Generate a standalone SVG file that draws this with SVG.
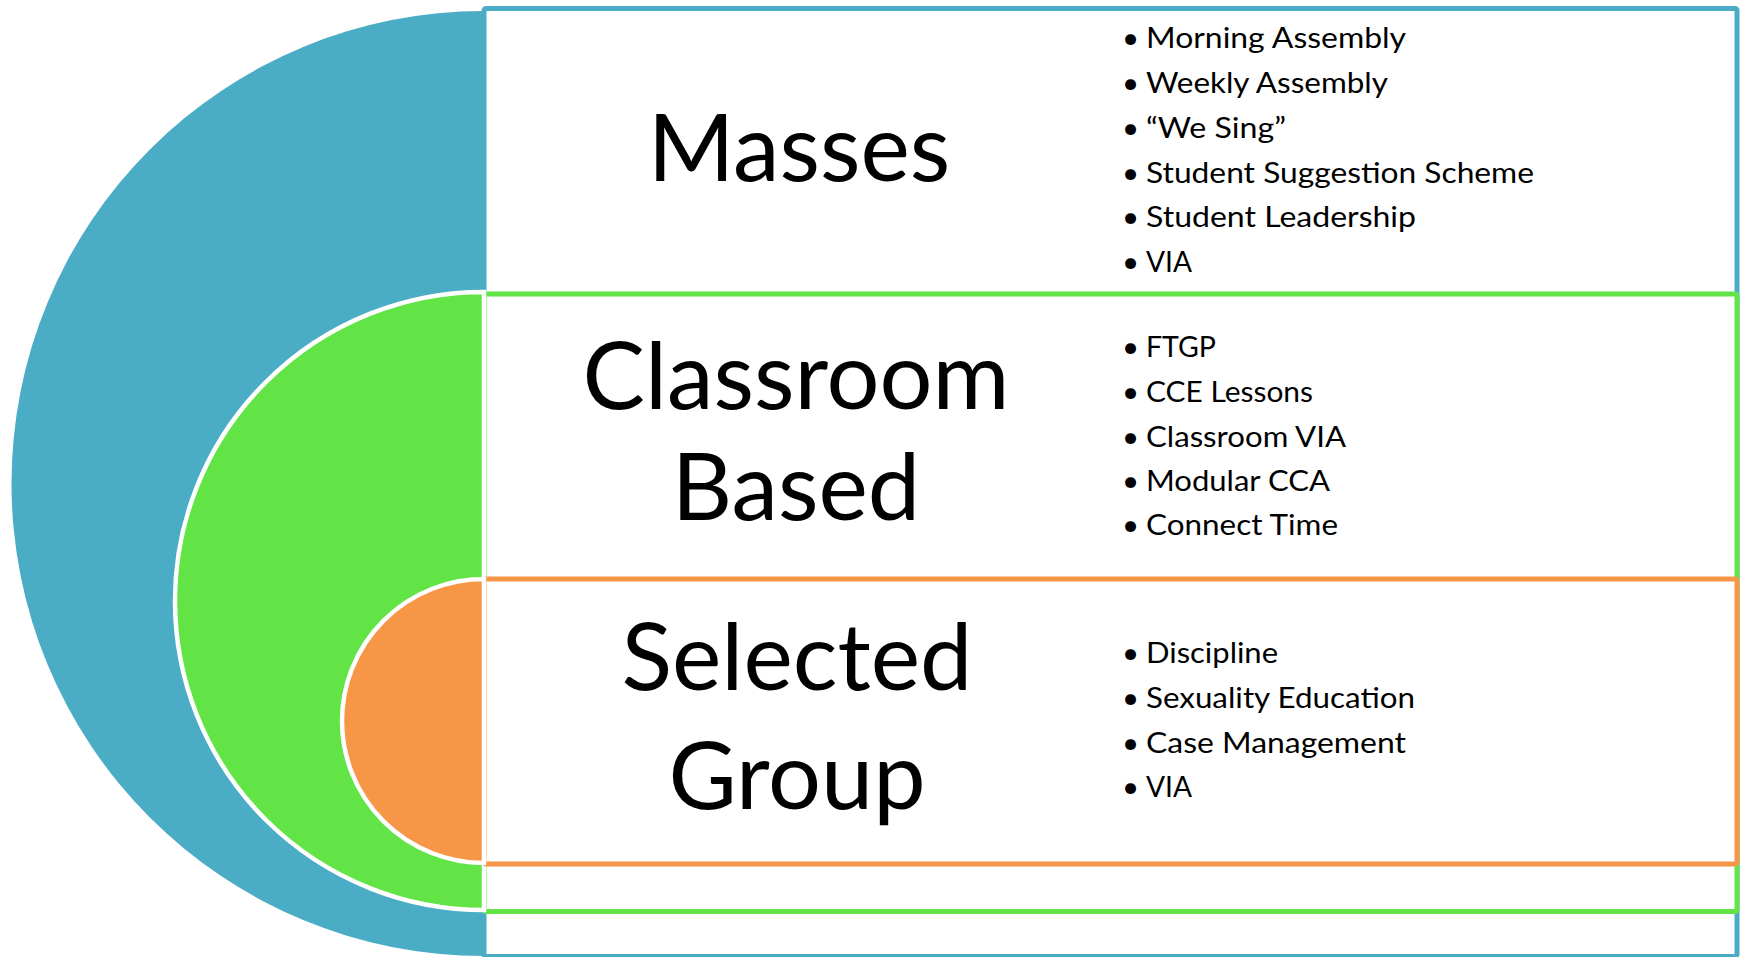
<svg xmlns="http://www.w3.org/2000/svg" width="1745" height="957" viewBox="0 0 1745 957">
<style>
.title{font-family:Lato,"Liberation Sans",sans-serif;font-size:93.5px;fill:#000;text-anchor:middle}
.item{font-family:Lato,"Liberation Sans",sans-serif;font-size:29.5px;fill:#000}
.box{fill:#fff;stroke-width:5}
.arc{stroke:#fff;stroke-width:4.5}
</style>
<rect width="1745" height="957" fill="#fff"/>
<g id="masses">
<path d="M484,11 A472.5,472.5 0 0 0 484,956 Z" fill="#4BACC6"/>
<rect class="box" x="484" y="8.5" width="1253" height="948" rx="2" stroke="#4BACC6"/>
<text class="title" x="799" y="181">Masses</text>
<g class="item">
<text x="1122" y="48">•</text><text x="1146" y="48" textLength="260" lengthAdjust="spacingAndGlyphs">Morning Assembly</text>
<text x="1122" y="93">•</text><text x="1146" y="93" textLength="242" lengthAdjust="spacingAndGlyphs">Weekly Assembly</text>
<text x="1122" y="138">•</text><text x="1146" y="138" textLength="140" lengthAdjust="spacingAndGlyphs">“We Sing”</text>
<text x="1122" y="183">•</text><text x="1146" y="183" textLength="388" lengthAdjust="spacingAndGlyphs">Student Suggestion Scheme</text>
<text x="1122" y="227">•</text><text x="1146" y="227" textLength="270" lengthAdjust="spacingAndGlyphs">Student Leadership</text>
<text x="1122" y="272">•</text><text x="1146" y="272" textLength="46" lengthAdjust="spacingAndGlyphs">VIA</text>
</g>
</g>
<g id="classroom">
<rect class="box" x="484" y="294" width="1253" height="617.5" rx="2" stroke="#62E346"/>
<path class="arc" d="M484,292 A309,309 0 0 0 484,910 Z" fill="#62E346"/>
<text class="title" x="796" y="409">Classroom</text>
<text class="title" x="796" y="520">Based</text>
<g class="item">
<text x="1122" y="357">•</text><text x="1146" y="357" textLength="70" lengthAdjust="spacingAndGlyphs">FTGP</text>
<text x="1122" y="402">•</text><text x="1146" y="402" textLength="167" lengthAdjust="spacingAndGlyphs">CCE Lessons</text>
<text x="1122" y="446.5">•</text><text x="1146" y="446.5" textLength="200" lengthAdjust="spacingAndGlyphs">Classroom VIA</text>
<text x="1122" y="491">•</text><text x="1146" y="491" textLength="184" lengthAdjust="spacingAndGlyphs">Modular CCA</text>
<text x="1122" y="535">•</text><text x="1146" y="535" textLength="192" lengthAdjust="spacingAndGlyphs">Connect Time</text>
</g>
</g>
<g id="selected">
<rect class="box" x="484" y="579" width="1253" height="285" rx="2" stroke="#F79646"/>
<path class="arc" d="M484,579 A142,142 0 0 0 484,863 Z" fill="#F79646"/>
<text class="title" x="797" y="690">Selected</text>
<text class="title" x="797" y="809">Group</text>
<g class="item">
<text x="1122" y="663">•</text><text x="1146" y="663" textLength="132" lengthAdjust="spacingAndGlyphs">Discipline</text>
<text x="1122" y="708">•</text><text x="1146" y="708" textLength="269" lengthAdjust="spacingAndGlyphs">Sexuality Education</text>
<text x="1122" y="753">•</text><text x="1146" y="753" textLength="260" lengthAdjust="spacingAndGlyphs">Case Management</text>
<text x="1122" y="797">•</text><text x="1146" y="797" textLength="46" lengthAdjust="spacingAndGlyphs">VIA</text>
</g>
</g>
<g id="connectors"/>
</svg>
